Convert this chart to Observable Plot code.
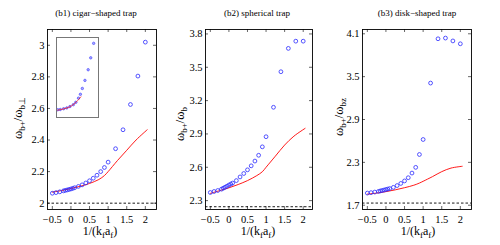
<!DOCTYPE html>
<html><head><meta charset="utf-8">
<script src="https://cdn.jsdelivr.net/npm/d3@7"></script>
<script src="https://cdn.jsdelivr.net/npm/@observablehq/plot@0.6"></script>
<style>
body{margin:0;background:#fff;}
#c{position:relative;width:500px;height:245px;overflow:hidden;font-family:'Liberation Serif',serif;color:#000;}
#c svg{position:absolute;top:0;background:transparent;}
#c svg text{font-family:'Liberation Serif',serif;}
.t{position:absolute;font-size:9px;white-space:nowrap;transform:translateX(-50%);color:#000;}
.xl{position:absolute;font-size:12px;white-space:nowrap;transform:translateX(-50%);}
.yl{position:absolute;font-size:12.5px;white-space:nowrap;transform:translate(-50%,-50%) rotate(-90deg);}
sub{font-size:9px;vertical-align:-3px;line-height:0;}
</style></head>
<body><div id="c"></div>
<script>
// ---- data ----
const xPts = [-0.5,-0.4,-0.3,-0.2,-0.15,-0.1,-0.05,0,0.05,0.1,0.2,0.3,0.4,0.5,0.6,0.7,0.8,0.9,1.0,1.2,1.4,1.6,1.8,2.0];
const cigarPts = [2.063,2.067,2.072,2.078,2.081,2.084,2.087,2.090,2.094,2.098,2.106,2.116,2.128,2.142,2.158,2.177,2.200,2.226,2.260,2.345,2.465,2.625,2.805,3.020];
const sphericalPts = [2.373,2.382,2.391,2.403,2.412,2.421,2.430,2.440,2.449,2.458,2.480,2.513,2.544,2.577,2.613,2.656,2.708,2.784,2.875,3.140,3.460,3.670,3.735,3.735];
const diskPts = [1.870,1.876,1.884,1.893,1.900,1.906,1.913,1.920,1.926,1.933,1.950,1.975,2.005,2.040,2.085,2.150,2.230,2.410,2.620,3.410,4.030,4.040,4.000,3.960];
const xLine = [-0.5,-0.25,0,0.25,0.5,0.75,0.9,1.0,1.25,1.5,1.75,2.05];
const cigarLine = [2.070,2.080,2.093,2.107,2.125,2.150,2.175,2.200,2.270,2.335,2.400,2.465];
const sphericalLine = [2.365,2.390,2.415,2.445,2.480,2.525,2.560,2.600,2.700,2.800,2.880,2.950];
const diskLine = [1.855,1.870,1.890,1.915,1.945,1.980,2.010,2.035,2.100,2.170,2.220,2.245];
const cigarAsym = 2.0, sphericalAsym = 2.245, diskAsym = 1.73;
const xTicks = [-0.5,0,0.5,1,1.5,2];
const cigarTicks = [2,2.2,2.4,2.6,2.8,3];
const sphericalTicks = [2.3,2.6,2.9,3.2,3.5,3.8];
const diskTicks = [1.7,2.3,2.9,3.5,4.1];
const titles = ["(b1) cigar\u2212shaped trap","(b2) spherical trap","(b3) disk\u2212shaped trap"];
const yLabels = ["\u03c9<sub>b+</sub>/\u03c9<sub>b\u22a5</sub>","\u03c9<sub>b+</sub>/\u03c9<sub>b</sub>","\u03c9<sub>b+</sub>/\u03c9<sub>bz</sub>"];
// inset (normalised inset coordinates)
const insetU = [0.03,0.09,0.17,0.246,0.32,0.40,0.46,0.523,0.569,0.615,0.677,0.754,0.815,0.885];
const insetV = [0.097,0.10,0.11,0.12,0.137,0.16,0.19,0.242,0.29,0.363,0.464,0.597,0.746,0.927];
const insetLineU = [0.03,0.15,0.30,0.42,0.50,0.58];
const insetLineV = [0.092,0.105,0.13,0.17,0.21,0.258];

const fmt = d => (d < 0 ? "\u2212" + Math.abs(d) : String(d));
const H = 245, mTop = 29, mBottom = 36;
const c = document.getElementById("c");

function panel(o) {
  const W = o.width, pw = W - o.ml - o.mr, ph = H - mTop - mBottom;
  const pts = xPts.map((x, i) => ({x, y: o.pts[i]}));
  const line = xLine.map((x, i) => ({x, y: o.line[i]}));
  const svg = Plot.plot({
    width: W, height: H,
    marginLeft: o.ml, marginRight: o.mr, marginTop: mTop, marginBottom: mBottom,
    style: {fontFamily: "'Liberation Serif', serif", fontSize: "10.5px", background: "transparent"},
    x: {domain: o.xd},
    y: {domain: o.yd},
    marks: [
      Plot.ruleY([o.asym], {stroke: "black", strokeWidth: 0.9, strokeDasharray: "2.5,2"}),
      Plot.line(line, {x: "x", y: "y", stroke: "#ff0000", strokeWidth: 0.9, curve: "catmull-rom"}),
      Plot.dot(pts, {x: "x", y: "y", r: 1.9, stroke: "#2a2aff", strokeWidth: 0.8, fill: "none"}),
      Plot.tickX(xTicks, {x: d => d, insetTop: ph - 3, stroke: "black", strokeWidth: 0.6}),
      Plot.tickX(xTicks, {x: d => d, insetBottom: ph - 3, stroke: "black", strokeWidth: 0.6}),
      Plot.tickY(o.ticks, {y: d => d, insetRight: pw - 3, stroke: "black", strokeWidth: 0.6}),
      Plot.tickY(o.ticks, {y: d => d, insetLeft: pw - 3, stroke: "black", strokeWidth: 0.6}),
      Plot.axisX({ticks: xTicks, tickSize: 0, tickPadding: 6, tickFormat: fmt, label: null, fontSize: 10.5}),
      Plot.axisY({ticks: o.ticks, tickSize: 0, tickPadding: 3, tickFormat: fmt, label: null, fontSize: 10.5}),
      Plot.frame({stroke: "black", strokeWidth: 0.9})
    ]
  });
  svg.style.left = o.left + "px";
  c.appendChild(svg);
  const t = document.createElement("div");
  t.className = "t"; t.textContent = o.title;
  t.style.left = o.tx + "px"; t.style.top = "8px";
  c.appendChild(t);
  const xl = document.createElement("div");
  xl.className = "xl"; xl.innerHTML = "1/(k<sub>f</sub>a<sub>f</sub>)";
  xl.style.left = o.xlx + "px"; xl.style.top = "224px";
  c.appendChild(xl);
  const yl = document.createElement("div");
  yl.className = "yl"; yl.innerHTML = o.ylabel;
  yl.style.left = o.ylx + "px"; yl.style.top = o.yly + "px";
  c.appendChild(yl);
}

panel({left: 0, width: 165, ml: 47, mr: 9, xd: [-0.63, 2.3], yd: [1.96, 3.1], pts: cigarPts, line: cigarLine, asym: cigarAsym, ticks: cigarTicks, title: titles[0], tx: 96, xlx: 100, ylabel: yLabels[0], ylx: 18, yly: 118});
panel({left: 160, width: 165, ml: 45, mr: 13, xd: [-0.63, 2.25], yd: [2.22, 3.84], pts: sphericalPts, line: sphericalLine, asym: sphericalAsym, ticks: sphericalTicks, title: titles[1], tx: 257, xlx: 258, ylabel: yLabels[1], ylx: 180, yly: 124});
panel({left: 320, width: 180, ml: 42, mr: 29, xd: [-0.63, 2.3], yd: [1.64, 4.16], pts: diskPts, line: diskLine, asym: diskAsym, ticks: diskTicks, title: titles[2], tx: 417, xlx: 418, ylabel: yLabels[2], ylx: 339, yly: 117});

// inset in panel 1
const ins = Plot.plot({
  width: 44, height: 82, margin: 1,
  x: {domain: [0, 1], axis: null}, y: {domain: [0, 1], axis: null},
  style: {background: "white"},
  marks: [
    Plot.dot(insetU.map((u, i) => ({u, v: insetV[i]})), {x: "u", y: "v", r: 1.2, stroke: "#5555ff", strokeWidth: 0.8, fill: "#aaaaff"}),
    Plot.line(insetLineU.map((u, i) => ({u, v: insetLineV[i]})), {x: "u", y: "v", stroke: "#ff0000", strokeWidth: 0.7, curve: "catmull-rom"}),
    Plot.frame({stroke: "#777", strokeWidth: 1})
  ]
});
ins.style.left = "55px"; ins.style.top = "36px";
c.appendChild(ins);
</script></body></html>
